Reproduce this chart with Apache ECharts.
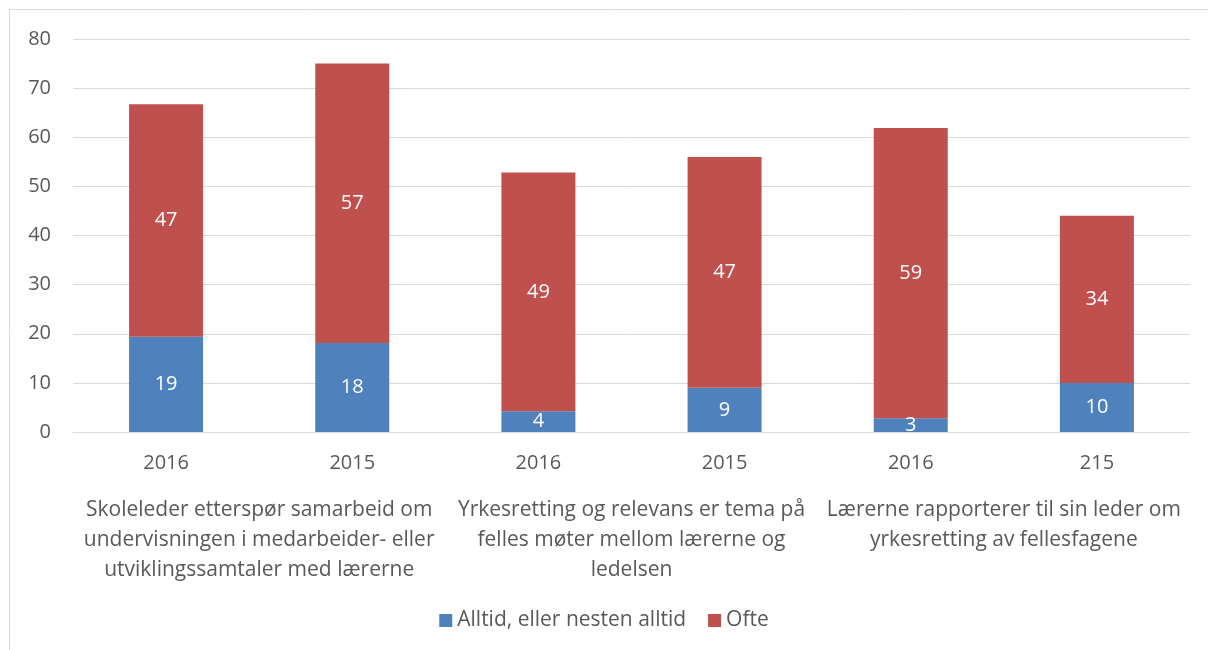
<!DOCTYPE html>
<html>
<head>
<meta charset="utf-8">
<script src="https://cdn.jsdelivr.net/npm/echarts@6/dist/echarts.min.js"></script>
<style>
html,body{margin:0;padding:0;background:#fff;}
#chart{width:1208px;height:650px;}
</style>
</head>
<body>
<div id="chart"></div>
<script>
//数据
var years = ['2016', '2015', '2016', '2015', '2016', '215'];
var groups = [
	'Skoleleder etterspør samarbeid om\nundervisningen i medarbeider- eller\nutviklingssamtaler med lærerne',
	'Yrkesretting og relevans er tema på\nfelles møter mellom lærerne og\nledelsen',
	'Lærerne rapporterer til sin leder om\nyrkesretting av fellesfagene'
];
var alltid = [19.4, 18.1, 4.2, 9.0, 2.8, 10.0];
var ofte = [47.3, 56.9, 48.6, 47.0, 59.1, 34.0];
var yTicks = [0, 10, 20, 30, 40, 50, 60, 70, 80];

var font = 'Open Sans';
var textColor = '#595959';

//初始化图表
var myChart = echarts.init(document.getElementById('chart'));
var barLabel = {
	show: true,
	position: 'inside',
	color: '#fff',
	fontSize: 20,
	fontFamily: font,
	formatter: function (p) { return Math.round(p.value); }
};
option = {
	animation: false,
	color: ['#4F81BD', '#C0504D'],
	graphic: [{
		type: 'rect',
		shape: {x: 9.5, y: 9.5, width: 1300, height: 700},
		style: {fill: 'none', stroke: '#d9d9d9', lineWidth: 1}
	}],
	grid: {left: 73, right: 18, top: 39, bottom: 218},
	legend: {
		bottom: 14,
		left: 'center',
		itemWidth: 13,
		itemHeight: 13,
		itemGap: 22,
		icon: 'rect',
		textStyle: {fontSize: 21, fontFamily: font, color: textColor},
		data: ['Alltid, eller nesten alltid', 'Ofte']
	},
	xAxis: [
		{
			type: 'category',
			data: years,
			axisLine: {show: true, lineStyle: {color: '#d9d9d9'}},
			axisTick: {show: false},
			axisLabel: {fontSize: 20, fontFamily: font, color: textColor, margin: 21}
		},
		{
			type: 'category',
			position: 'bottom',
			offset: 55,
			data: groups,
			axisLine: {show: false},
			axisTick: {show: false},
			axisLabel: {fontSize: 21, fontFamily: font, color: textColor, lineHeight: 30, verticalAlign: 'top', interval: 0}
		}
	],
	yAxis: {
		type: 'value',
		min: 0,
		max: 80,
		interval: 10,
		axisLine: {show: false},
		axisTick: {show: false},
		splitLine: {lineStyle: {color: '#d9d9d9'}},
		axisLabel: {fontSize: 20, fontFamily: font, color: textColor, margin: 22}
	},
	series: [
		{
			name: 'Alltid, eller nesten alltid',
			type: 'bar',
			stack: 'total',
			barWidth: 74,
			data: alltid,
			label: barLabel
		},
		{
			name: 'Ofte',
			type: 'bar',
			stack: 'total',
			barWidth: 74,
			data: ofte,
			label: barLabel
		}
	]
};
myChart.setOption(option);
</script>
</body>
</html>
